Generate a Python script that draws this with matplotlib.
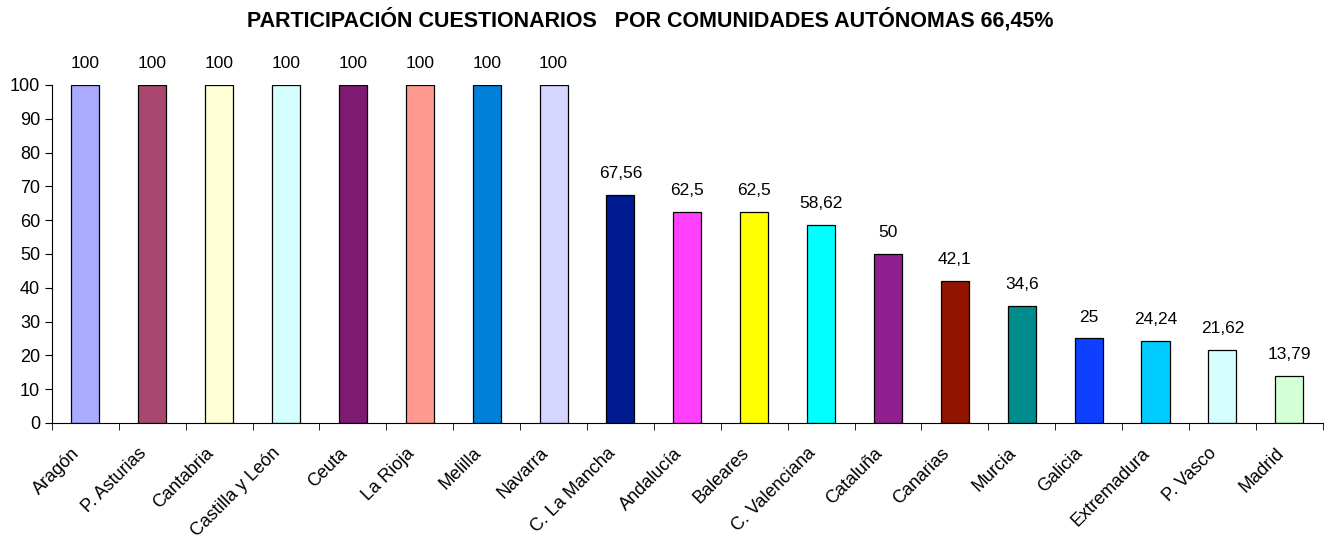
import matplotlib.pyplot as plt
from matplotlib.transforms import ScaledTranslation
import numpy as np

plt.rcParams['font.family'] = ['Liberation Sans', 'DejaVu Sans']

regions = ['Aragón', 'P. Asturias', 'Cantabria', 'Castilla y León', 'Ceuta', 'La Rioja',
           'Melilla', 'Navarra', 'C. La Mancha', 'Andalucía', 'Baleares', 'C. Valenciana',
           'Cataluña', 'Canarias', 'Murcia', 'Galicia', 'Extremadura', 'P. Vasco', 'Madrid']
values = [100, 100, 100, 100, 100, 100, 100, 100, 67.56, 62.5, 62.5, 58.62,
          50, 42.1, 34.6, 25, 24.24, 21.62, 13.79]
colors = ['#AAAAFF', '#A8476F', '#FFFFD5', '#D5FFFF', '#7F1A73', '#FF9A90', '#0080D8',
          '#D5D5FF', '#001A90', '#FF40FF', '#FFFF00', '#00FFFF', '#902090', '#901400',
          '#008C8C', '#1040FF', '#00CCFF', '#D5FFFF', '#D5FFD5']

fig = plt.figure(figsize=(13.32, 5.45), dpi=100)
ax = fig.add_axes([0.039, 0.2239, 0.954, 0.6202])

x = np.arange(len(regions))
ax.bar(x, values, width=0.42, color=colors, edgecolor='black', linewidth=0.9)

# value labels with comma decimals
for xi, v in zip(x, values):
    txt = f'{v:g}'.replace('.', ',')
    ax.annotate(txt, (xi, v), xytext=(0, 10), textcoords='offset points',
                ha='center', va='bottom', fontsize=12.5)

ax.set_xlim(-0.5, len(regions) - 0.5)
ax.set_ylim(0, 100)
ax.set_yticks(range(0, 101, 10))
ax.tick_params(axis='y', labelsize=13, length=5, direction='out')

ax.set_xticks(x)
ax.set_xticklabels(regions, rotation=45, ha='right', va='center', rotation_mode='anchor', fontsize=13)
ax.tick_params(axis='x', which='major', length=0, pad=20)
ax.set_xticks(np.arange(-0.5, len(regions), 1), minor=True)
ax.tick_params(axis='x', which='minor', length=5, direction='out')
shift = ScaledTranslation(-8 / 100, 0, fig.dpi_scale_trans)
for lbl in ax.get_xticklabels():
    lbl.set_transform(lbl.get_transform() + shift)

for s in ['top', 'right']:
    ax.spines[s].set_visible(False)

fig.text(0.4885, 0.963, 'PARTICIPACIÓN CUESTIONARIOS   POR COMUNIDADES AUTÓNOMAS 66,45%',
         ha='center', va='center', fontsize=15.5, fontweight='bold')

fig.savefig('out.png', dpi=100)
